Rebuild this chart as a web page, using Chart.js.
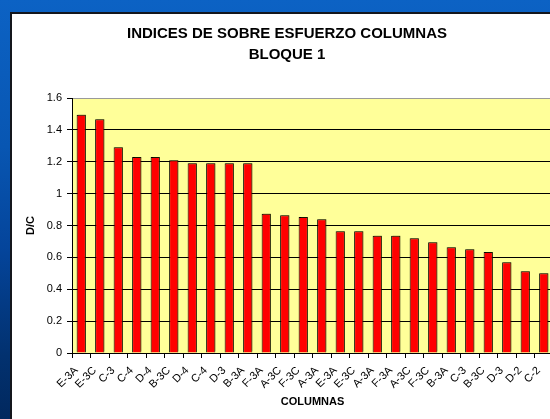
<!DOCTYPE html>
<html>
<head>
<meta charset="utf-8">
<script src="https://cdn.jsdelivr.net/npm/chart.js@4.4.1/dist/chart.umd.min.js"></script>
<style>
  html, body { margin: 0; padding: 0; width: 550px; height: 419px; overflow: hidden; }
  body { background: linear-gradient(to bottom, #0c62c4 0%, #0856b2 35%, #04449a 60%, #02316f 85%, #01285e 100%); position: relative; }
  #panel { position: absolute; left: 10px; top: 12px; width: 560px; height: 420px; background: #fff; border-top: 2px solid #14161c; border-left: 2px solid #14161c; }
  canvas { display: block; }
</style>
</head>
<body>
<div id="panel"><canvas id="c" width="560" height="405"></canvas></div>
<script>
const categories = ['E-3A','E-3C','C-3','C-4','D-4','B-3C','D-4','C-4','D-3','B-3A','F-3A','A-3C','F-3C','A-3A','E-3A','E-3C','A-3A','F-3A','A-3C','F-3C','B-3A','C-3','B-3C','D-3','D-2','C-2'];
const values = [1.495,1.466,1.291,1.23,1.23,1.209,1.19,1.19,1.19,1.19,0.873,0.865,0.854,0.839,0.764,0.764,0.735,0.735,0.72,0.695,0.664,0.651,0.633,0.57,0.513,0.501];
const yTickLabels = ['0','0.2','0.4','0.6','0.8','1','1.2','1.4','1.6'];
const titleLines = ['INDICES DE SOBRE ESFUERZO COLUMNAS','BLOQUE 1'];
const xTitle = 'COLUMNAS';
const yTitle = 'D/C';

const FONT = '"Liberation Sans", Arial, sans-serif';
Chart.defaults.font.family = FONT;
Chart.defaults.color = '#000';

const bgPlugin = {
  id: 'bg',
  beforeDraw(chart) {
    const {ctx, chartArea: a} = chart;
    ctx.save();
    ctx.fillStyle = '#ffffff';
    ctx.fillRect(0, 0, chart.width, chart.height);
    ctx.fillStyle = '#FFFF99';
    ctx.fillRect(a.left, a.top, a.right - a.left, a.bottom - a.top);
    ctx.restore();
  },
  beforeDatasetsDraw(chart) {
    const ctx = chart.ctx;
    ctx.save();
    ctx.shadowColor = 'rgba(60,60,0,0.35)';
    ctx.shadowOffsetX = 1.5;
    ctx.shadowOffsetY = -1.5;
    ctx.shadowBlur = 0;
  },
  afterDatasetsDraw(chart) {
    chart.ctx.restore();
  }
};

new Chart(document.getElementById('c'), {
  type: 'bar',
  data: {
    labels: categories,
    datasets: [{
      data: values,
      backgroundColor: '#FF0000',
      borderColor: '#000000',
      borderWidth: 1,
      barPercentage: 0.5,
      categoryPercentage: 1.0
    }]
  },
  options: {
    responsive: false,
    animation: false,
    layout: { padding: { left: 9, right: 19, top: 0, bottom: 0 } },
    plugins: {
      legend: { display: false },
      tooltip: { enabled: false },
      title: {
        display: true,
        text: titleLines,
        color: '#000',
        font: { size: 15, weight: 'bold', lineHeight: 1.4 },
        padding: { top: 9.5, bottom: 32.5 }
      }
    },
    scales: {
      x: {
        grid: { drawOnChartArea: false, drawTicks: true, tickLength: 5, color: '#000', offset: true },
        border: { color: '#000', width: 1 },
        ticks: { autoSkip: false, minRotation: 45, maxRotation: 45, font: { size: 11 }, color: '#000', padding: 6, labelOffset: -5 },
        title: { display: true, text: xTitle, color: '#000', font: { size: 11, weight: 'bold', lineHeight: 1.2 }, padding: { top: 0, bottom: 10.6 } },
        afterFit(s) { s.height = 66; }
      },
      y: {
        min: 0, max: 1.6,
        grid: {
          color: (c) => (c.tick && c.tick.value >= 1.59) ? '#9a9a9a' : '#000',
          tickColor: '#000',
          tickLength: 5,
          lineWidth: 1
        },
        border: { color: '#000', width: 1 },
        ticks: {
          stepSize: 0.2,
          padding: 5,
          font: { size: 11 },
          color: '#000',
          callback: (v, i) => yTickLabels[i]
        },
        title: { display: true, text: yTitle, color: '#000', font: { size: 11, weight: 'bold', lineHeight: 1.2 }, padding: { top: 3.4, bottom: 0 } },
        afterFit(s) { s.width = 51; }
      }
    }
  },
  plugins: [bgPlugin]
});
</script>
</body>
</html>
